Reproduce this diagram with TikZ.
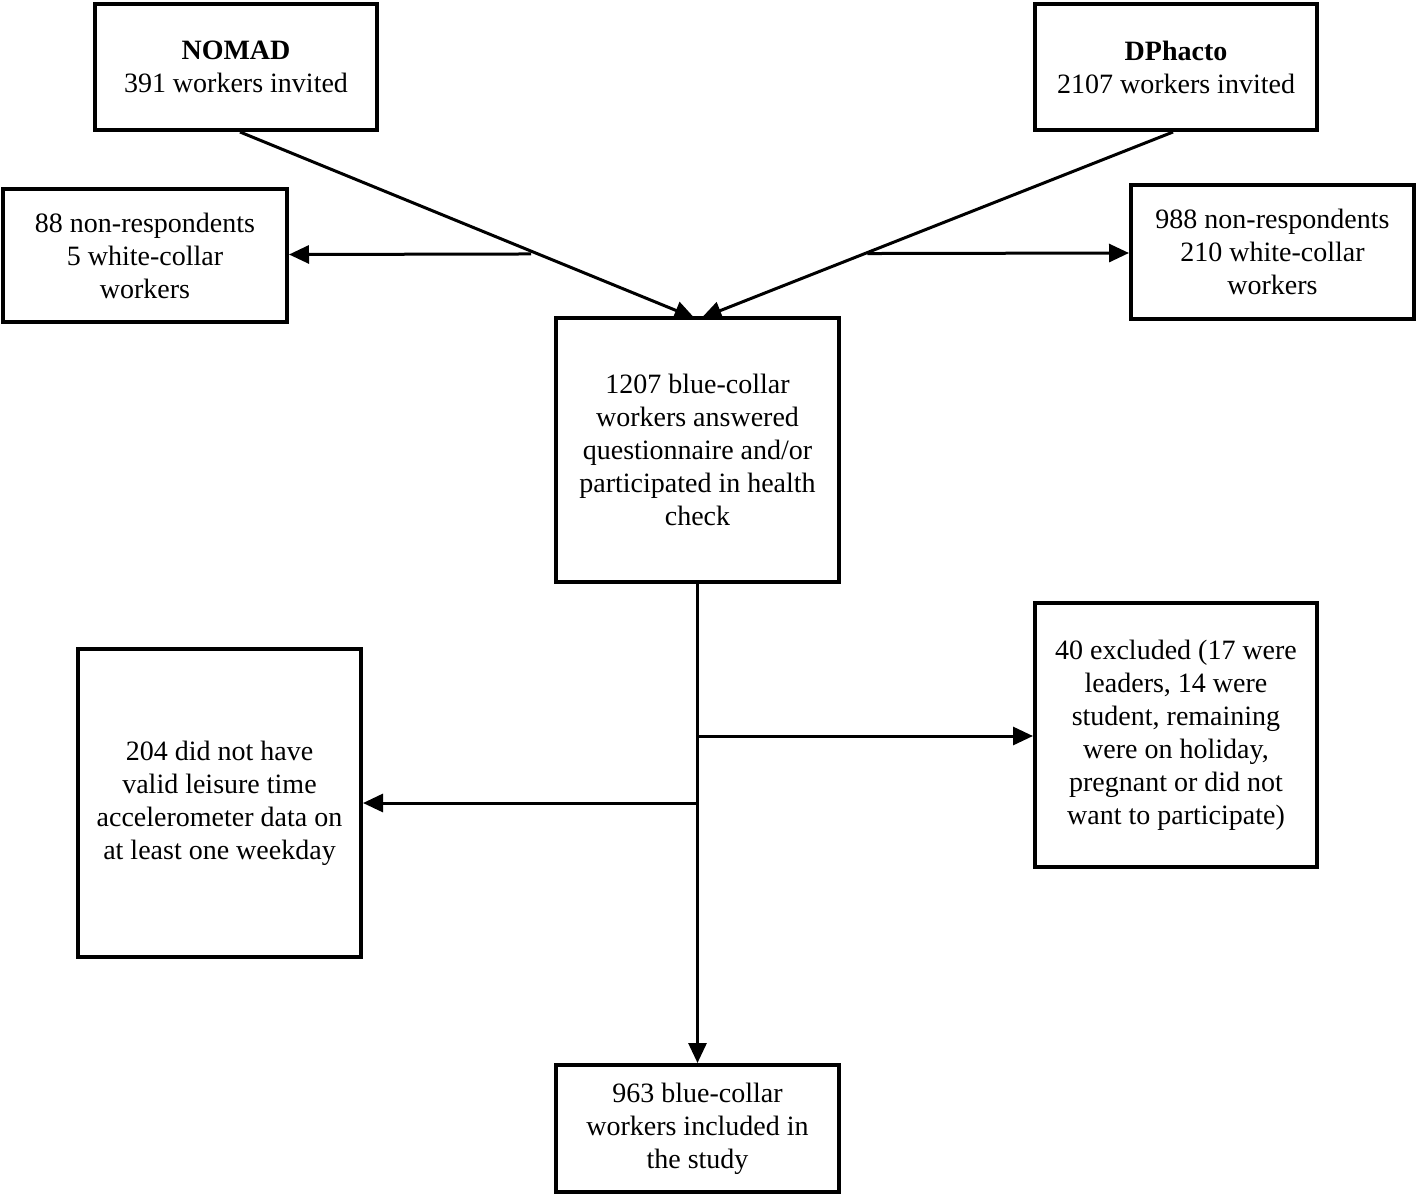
\documentclass[tikz,border=0pt]{standalone}
\usepackage{fontspec}
\setmainfont{Liberation Serif}
\usetikzlibrary{arrows.meta,calc}
\begin{document}
\begin{tikzpicture}[x=1pt,y=-1pt,
  box/.style={draw,line width=4pt,align=center,inner sep=0pt,font=\fontsize{28}{33}\selectfont},
  conn/.style={line width=3pt},
  arr/.style={conn,-{Triangle[length=20pt,width=18pt]}}]
\useasboundingbox (0,0) rectangle (1418,1196);
\node[box,minimum width=282,minimum height=126] (nomad) at (236,67) {\textbf{NOMAD}\\391 workers invited};
\node[box,minimum width=282,minimum height=126] (dph) at (1176,67) {\textbf{DPhacto}\\2107 workers invited};
\node[box,minimum width=284,minimum height=133] (lnr) at (145,255.5) {88 non-respondents\\5 white-collar\\workers};
\node[box,minimum width=283,minimum height=134] (rnr) at (1272.5,252) {988 non-respondents\\210 white-collar\\workers};
\node[box,minimum width=283,minimum height=264] (ctr) at (697.5,450) {1207 blue-collar\\workers answered\\questionnaire and/or\\participated in health\\check};
\node[box,minimum width=283,minimum height=308] (lex) at (219.5,803) {204 did not have\\valid leisure time\\accelerometer data on\\at least one weekday};
\node[box,minimum width=282,minimum height=264] (rex) at (1176,735) {40 excluded (17 were\\leaders, 14 were\\student, remaining\\were on holiday,\\pregnant or did not\\want to participate)};
\node[box,minimum width=283,minimum height=127] (bot) at (697.5,1128.5) {963 blue-collar\\workers included in\\the study};
\coordinate (ns) at ($(nomad.south)+(4,0)$);
\coordinate (ds) at ($(dph.south)+(-3,0)$);
\coordinate (ct1) at ($(ctr.north)+(-3,2)$);
\coordinate (ct2) at ($(ctr.north)+(4,2)$);
\draw[arr] (ns) -- (ct1);
\draw[arr] (ds) -- (ct2);
\coordinate (nm) at ($(ns)!0.645!(ct1)$);
\coordinate (dm) at ($(ds)!0.648!(ct2)$);
\draw[arr] ($(nm)+(-2,2)$) -- ($(lnr.east)+(0,-1)$);
\draw[arr] ($(dm)+(0,1)$) -- ($(rnr.west)+(0,1)$);
\draw[arr] (ctr.south) -- (bot.north);
\draw[arr] (ctr.south |- 0,736) -- (rex.west |- 0,736);
\draw[arr] (ctr.south |- lex.east) -- (lex.east);
\end{tikzpicture}
\end{document}
